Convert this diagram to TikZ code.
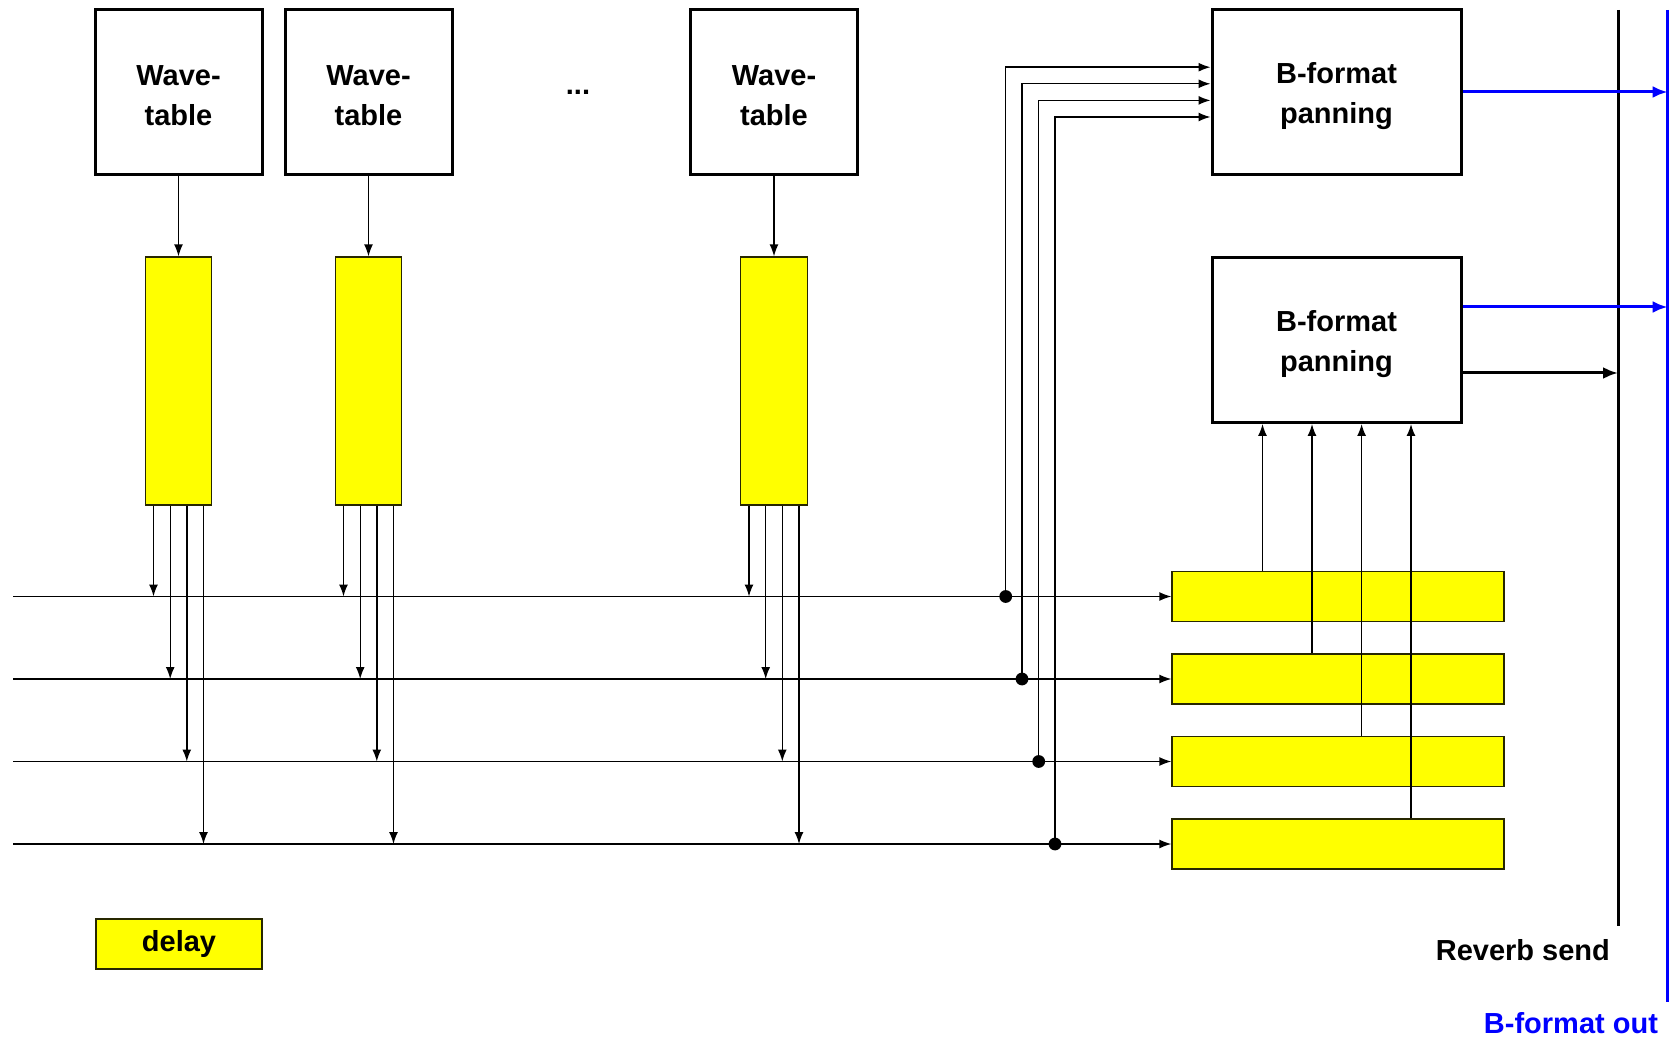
\documentclass[tikz,border=0pt]{standalone}
\usepackage{fontspec}
\setmainfont{Liberation Sans}
\usetikzlibrary{arrows.meta}
\definecolor{barline}{RGB}{40,40,0}
\definecolor{outblue}{RGB}{0,0,255}
\definecolor{baryellow}{RGB}{255,255,0}
\begin{document}
\begin{tikzpicture}[x=0.5pt,y=-0.5pt,
  lbl/.style={font=\bfseries\fontsize{14.5}{20}\selectfont, align=center},
  wbox/.style={draw, line width=1.5pt, minimum width=83.5pt, minimum height=82.25pt, inner sep=0pt},
  pbox/.style={draw, line width=1.5pt, minimum width=124.5pt, minimum height=82.5pt, inner sep=0pt},
  inlbl/.style={label={[lbl,yshift=-2pt]center:{#1}}},
  dbar/.style={draw=barline, fill=baryellow, line width=0.65pt, minimum width=33.25pt, minimum height=124pt, inner sep=0pt},
  rbar/.style={draw=barline, fill=baryellow, line width=0.65pt, minimum width=166pt, minimum height=25pt, inner sep=0pt},
  sig/.style={line width=0.7pt, -{Latex[length=6pt,width=4.5pt]}},
  outarr/.style={line width=1.5pt, -{Latex[length=7.5pt,width=6pt]}},
  bus/.style={line width=1.5pt},
  tapdot/.style={fill=black},
]
\useasboundingbox (0,0) rectangle (1675,1042);

% wavetables
\node (w1) [wbox, inlbl={Wave-\\table}] at (178.5,92) {};
\node (w2) [wbox, inlbl={Wave-\\table}] at (368.5,92) {};
\node (w3) [wbox, inlbl={Wave-\\table}] at (774,92) {};
\node (dots) [lbl] at (578,92) {...};

% delay lines
\node (d1) [dbar] at (178.5,381) {};
\node (d2) [dbar] at (368.5,381) {};
\node (d3) [dbar] at (774,381) {};

\foreach \i in {1,2,3} {\draw[sig] (w\i) -- (d\i);}

% reverb delay bars
\node (r1) [rbar] at (1338,596.5) {};
\node (r2) [rbar] at (1338,679) {};
\node (r3) [rbar] at (1338,761.5) {};
\node (r4) [rbar] at (1338,844) {};

% panning boxes
\node (p1) [pbox, inlbl={B-format\\panning}] at (1336.5,92) {};
\node (p2) [pbox, inlbl={B-format\\panning}] at (1336.5,340) {};

% horizontal lines
\coordinate (l1) at (13,596.5);
\coordinate (l2) at (13,679);
\coordinate (l3) at (13,761.5);
\coordinate (l4) at (13,844);
\foreach \i in {1,2,3,4} {\draw[sig] (l\i) -- (r\i.west);}

% taps from delay lines onto the lines
\foreach \i in {1,2,3} {
  \draw[sig] ([xshift=-12.5pt]d\i.south) -- ([xshift=-12.5pt]d\i.south |- r1.west);
  \draw[sig] ([xshift=-4.15pt]d\i.south) -- ([xshift=-4.15pt]d\i.south |- r2.west);
  \draw[sig] ([xshift=4.15pt]d\i.south) -- ([xshift=4.15pt]d\i.south |- r3.west);
  \draw[sig] ([xshift=12.5pt]d\i.south) -- ([xshift=12.5pt]d\i.south |- r4.west);
}

% taps to first panner
\coordinate (t1) at (1005.7,596.5);
\coordinate (t2) at (1022,679);
\coordinate (t3) at (1038.7,761.5);
\coordinate (t4) at (1055,844);
\draw[sig] (t1) |- ([yshift=12.4pt]p1.west);
\draw[sig] (t2) |- ([yshift=4.1pt]p1.west);
\draw[sig] (t3) |- ([yshift=-4.2pt]p1.west);
\draw[sig] (t4) |- ([yshift=-12.5pt]p1.west);
\foreach \i in {1,2,3,4} {\fill[tapdot] (t\i) circle[radius=3.2pt];}

% reverb delay outputs to second panner
\draw[sig] ([xshift=-37.75pt]r1.north) -- ([xshift=-37.75pt]r1.north |- p2.south);
\draw[sig] ([xshift=-13pt]r2.north) -- ([xshift=-13pt]r2.north |- p2.south);
\draw[sig] ([xshift=11.8pt]r3.north) -- ([xshift=11.8pt]r3.north |- p2.south);
\draw[sig] ([xshift=36.5pt]r4.north) -- ([xshift=36.5pt]r4.north |- p2.south);

% buses
\coordinate (rtop) at (1618,10);
\coordinate (rbot) at (1618,926);
\coordinate (btop) at (1667.6,10);
\coordinate (bbot) at (1667.6,1002);
\draw[bus] (rtop) -- (rbot);
\draw[bus, outblue] (btop) -- (bbot);

\draw[outarr, outblue] (p1.east) -- (p1.east -| btop);
\draw[outarr, outblue] ([yshift=16.5pt]p2.east) -- ([yshift=16.5pt]p2.east -| btop);
\draw[outarr] ([yshift=-16.5pt]p2.east) -- ([yshift=-16.5pt]p2.east -| rtop);

\node (rlabel) [lbl, anchor=east] at (1617,950) {Reverb send};
\node (blabel) [lbl, anchor=east, text=outblue] at (1665,1023) {B-format out};

% legend
\node (legend) [draw=barline, fill=baryellow, line width=0.65pt, minimum width=83pt, minimum height=25pt, inner sep=0pt, lbl] at (179,944) {delay};
\end{tikzpicture}
\end{document}
